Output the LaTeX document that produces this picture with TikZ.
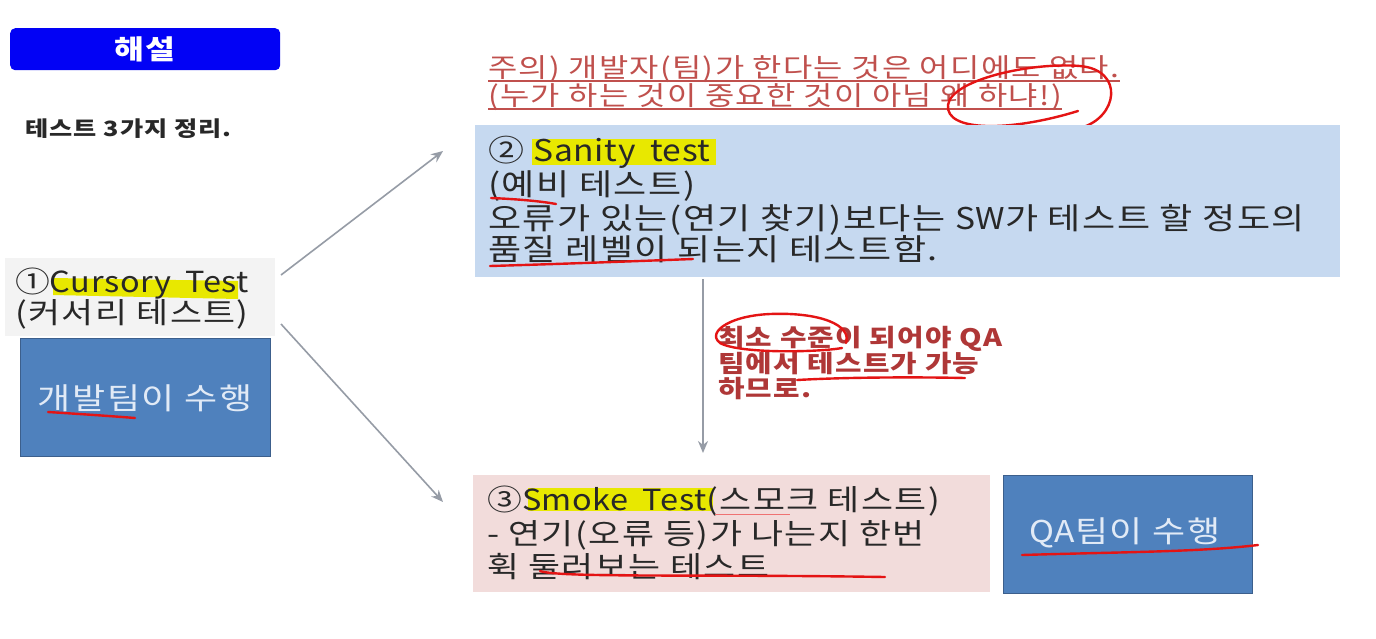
\documentclass[tikz,border=0pt]{standalone}
\usepackage{fontspec}
\setmainfont{Noto Sans CJK KR}[FakeStretch=1.2, LetterSpace=5]
\newfontfamily\latf{Noto Sans CJK KR}[FakeStretch=1.12, LetterSpace=2, WordSpace=1.8]
\usetikzlibrary{arrows.meta}
\definecolor{hblue}{RGB}{2,2,245}
\definecolor{steel}{RGB}{79,129,189}
\definecolor{steeld}{RGB}{60,95,140}
\definecolor{sanityc}{RGB}{198,217,240}
\definecolor{smokec}{RGB}{242,220,219}
\definecolor{cgray}{RGB}{243,243,243}
\definecolor{notec}{RGB}{192,80,77}
\definecolor{labelc}{RGB}{175,55,55}
\definecolor{hl}{RGB}{232,232,0}
\definecolor{pen}{RGB}{228,20,20}
\definecolor{arrowc}{RGB}{150,156,166}
\definecolor{txt}{RGB}{40,40,40}
\definecolor{lighttxt}{RGB}{225,234,246}
\tikzset{
  box/.style={rectangle, anchor=north west, inner sep=0pt},
  bluebox/.style={box, fill=steel, draw=steeld, line width=1pt},
  txtline/.style={anchor=base west, inner sep=0pt, text=txt},
  penline/.style={pen, line width=2.4pt, line cap=round},
  conn/.style={arrowc, line width=1.6pt, -{Stealth[length=12pt,width=10pt]}},
}
\begin{document}
\begin{tikzpicture}[x=1pt,y=-1pt]
\useasboundingbox (0,0) rectangle (1376,638);
\fill[white] (0,0) rectangle (1376,638);

% header
\node[box, fill=hblue, rounded corners=5pt, minimum width=270pt, minimum height=42pt] (hdr) at (10,28) {};
\node[text=white, font=\bfseries\fontsize{27}{29}\selectfont] (hdrt) at (hdr.center) {해설};
\node[txtline, font=\bfseries\fontsize{21}{23}\selectfont] (sub) at (25,136) {테스트 3가지 정리.};

% cursory
\node[box, fill=cgray, minimum width=270pt, minimum height=78pt] (curs) at (5,258) {};
\fill[hl] (53,278) -- (238,281) -- (238,299) -- (53,295) -- cycle;
\node[txtline, font=\fontsize{29}{31}\selectfont] (c1) at (15,292) {①{\latf Cursory Test}};
\node[txtline, font=\fontsize{29}{31}\selectfont] (c2) at (15,323) {(커서리 테스트)};
\node[bluebox, minimum width=250pt, minimum height=118pt] (dev) at (20,338) {};
\node[text=lighttxt, font=\fontsize{30}{32}\selectfont] (devt) at (145,398) {개발팀이 수행};
\draw[penline] (48,412) .. controls (80,414) and (110,416) .. (135,418);

% top note
\node[txtline, text=notec, font=\fontsize{26.5}{28}\selectfont] (n1) at (488,77) {주의) 개발자(팀)가 한다는 것은 어디에도 없다.};
\node[txtline, text=notec, font=\fontsize{26.5}{28}\selectfont] (n2) at (488,105) {(누가 하는 것이 중요한 것이 아님 왜 하냐!)};
\draw[notec, line width=1.2pt] ([yshift=-4pt]n1.base west) -- ([yshift=-4pt]n1.base east);
\draw[notec, line width=1.2pt] ([yshift=-4pt]n2.base west) -- ([yshift=-4pt]n2.base east);
\draw[penline] (1078,111) .. controls (1010,132) and (945,132) .. (948,105)
  .. controls (951,80) and (1030,62) .. (1080,66)
  .. controls (1125,70) and (1118,118) .. (1080,128);

% sanity
\node[box, fill=sanityc, minimum width=865pt, minimum height=152pt] (san) at (475,125) {};
\fill[hl] (532,139) rectangle (716,165);
\node[txtline, font=\fontsize{30}{32}\selectfont] (s1) at (488,161) {② {\latf Sanity test}};
\node[txtline, font=\fontsize{30}{32}\selectfont] (s2) at (488,195) {(예비 테스트)};
\node[txtline, font=\fontsize{30}{32}\selectfont] (s3) at (488,229) {오류가 있는(연기 찾기)보다는 {\latf SW}가 테스트 할 정도의};
\node[txtline, font=\fontsize{30}{32}\selectfont] (s4) at (488,260) {품질 레벨이 되는지 테스트함.};
\draw[penline] (491,198) .. controls (515,199) and (540,201) .. (556,204);
\draw[penline] (490,266) .. controls (560,264) and (640,261) .. (693,259);

% smoke
\node[box, fill=smokec, minimum width=517pt, minimum height=117pt] (smk) at (473,475) {};
\fill[hl] (528,488) rectangle (713,511);
\node[txtline, font=\fontsize{29}{31}\selectfont] (k1) at (487,510) {③{\latf Smoke Test}(스모크 테스트)};
\node[txtline, font=\fontsize{29}{31}\selectfont] (k2) at (487,544) {- 연기(오류 등)가 나는지 한번};
\node[txtline, font=\fontsize{29}{31}\selectfont] (k3) at (487,577) {휙 둘러보는 테스트};
\draw[pen!60, line width=1pt] (715,514) -- (790,514);
\draw[penline] (540,571) .. controls (560,578) and (700,574) .. (885,577);
\node[bluebox, minimum width=249pt, minimum height=118pt] (qa) at (1003,475) {};
\node[text=lighttxt, font=\fontsize{30}{32}\selectfont] (qat) at (1125,533) {{\latf QA}팀이 수행};
\draw[penline] (1022,555) .. controls (1120,552) and (1200,552) .. (1258,545);

% label
\node[anchor=base west, inner sep=0pt, text=labelc, font=\bfseries\fontsize{24}{26}\selectfont] (l1) at (718,346) {최소 수준이 되어야 QA};
\node[anchor=base west, inner sep=0pt, text=labelc, font=\bfseries\fontsize{24}{26}\selectfont] (l2) at (718,372) {팀에서 테스트가 가능};
\node[anchor=base west, inner sep=0pt, text=labelc, font=\bfseries\fontsize{24}{26}\selectfont] (l3) at (718,397) {하므로.};
\draw[penline] (846,343) .. controls (852,325) and (820,312) .. (770,314)
  .. controls (725,316) and (705,335) .. (722,344)
  .. controls (745,354) and (820,352) .. (842,348);
\draw[penline] (797,380) .. controls (850,377) and (920,377) .. (965,378);

% connectors
\coordinate (a0) at (281,275);
\coordinate (a1) at (443,151);
\coordinate (b0) at (281,324);
\coordinate (b1) at (443,502);
\coordinate (v0) at (703,279);
\coordinate (v1) at (703,453);
\draw[conn] (a0) -- (a1);
\draw[conn] (b0) -- (b1);
\draw[conn] (v0) -- (v1);
\end{tikzpicture}
\end{document}
